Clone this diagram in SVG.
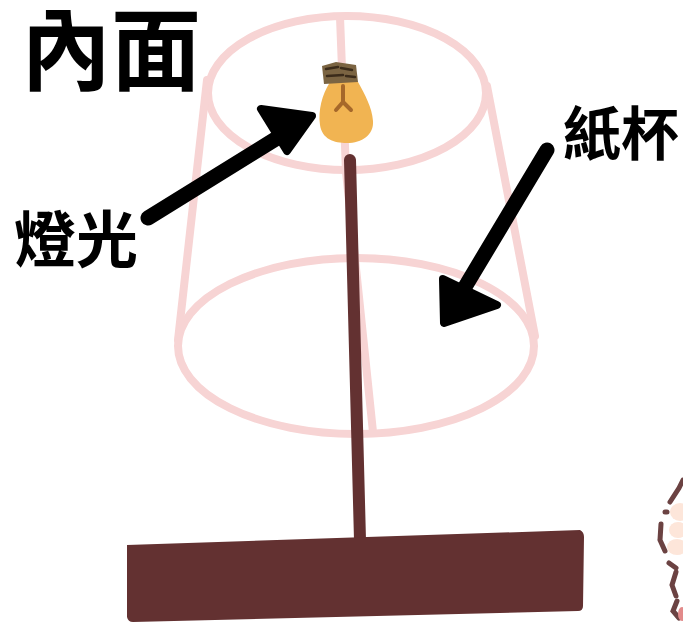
<svg xmlns="http://www.w3.org/2000/svg" width="683" height="624" viewBox="0 0 683 624">
  <style>
    .cup { fill: none; stroke: #f7d4d4; stroke-width: 8; stroke-linecap: round; }
    .label { font-family: "Noto Sans CJK TC", "Noto Sans CJK SC", sans-serif; font-weight: 700; fill: #000; }
    .shaft { stroke: #000; stroke-width: 15; stroke-linecap: round; fill: none; }
    .head { fill: #000; stroke: #000; stroke-width: 8; stroke-linejoin: round; }
    .brown { fill: #633131; }
    .doodle { fill: none; stroke: #6b4242; stroke-width: 5; stroke-linecap: round; }
  </style>
  <rect width="683" height="624" fill="#fff"/>

  <!-- paper cup outline -->
  <g id="cup">
    <ellipse class="cup" cx="347" cy="93" rx="139" ry="77"/>
    <ellipse class="cup" cx="356" cy="346" rx="178" ry="88"/>
    <path class="cup" d="M207,80 L178,340"/>
    <path class="cup" d="M487,86 L535,336"/>
    <path class="cup" d="M340,17 L346,172 L373,432"/>
  </g>

  <!-- lamp stick -->
  <g id="stick">
    <path d="M350,160 L360,540" stroke="#633131" stroke-width="12" stroke-linecap="round"/>
  </g>

  <!-- light bulb -->
  <g id="bulb">
    <path d="M330,82 C322,95 318,110 320,125 C322,139 334,143 347,143 C362,143 374,135 373,121 C372,107 365,95 358,82 Z" fill="#f1b452"/>
    <path d="M343,86 L343,102 M343,102 L336,110 M343,102 L351,110" stroke="#a6682a" stroke-width="4" stroke-linecap="round" fill="none"/>
    <path d="M322,66 L336,62 L356,65 L358,82 L324,84 Z" fill="#7b6442"/>
    <path d="M326,69 L338,67 M341,68 L352,70 M327,76 L343,75 M346,76 L355,77" stroke="#3b2b1a" stroke-width="2.5" stroke-linecap="round"/>
  </g>

  <!-- base -->
  <g id="base">
    <path class="brown" d="M127,545 L580,530 Q584,532 584,537 L583,606 Q583,611 578,611 L133,622 Q128,622 127,617 Z"/>
  </g>

  <!-- pointer arrows -->
  <g id="connectors">
    <path class="shaft" d="M148,218 L282,135"/>
    <polygon class="head" points="261,109 312,116 287,151"/>
    <path class="shaft" d="M547,150 L462,292"/>
    <polygon class="head" points="443,279 497,305 444,323"/>
  </g>

  <!-- labels -->
  <g id="title"><text class="label" x="21" y="83" font-size="90">內面</text></g>
  <g id="light-label"><text class="label" x="14" y="263" font-size="62">燈光</text></g>
  <g id="cup-label"><text class="label" x="563" y="155" font-size="58">紙杯</text></g>

  <!-- corner doodle -->
  <g id="doodle">
    <ellipse cx="680" cy="512" rx="10" ry="9" fill="#fde6da"/>
    <ellipse cx="678" cy="530" rx="9" ry="8" fill="#fde6da"/>
    <ellipse cx="677" cy="547" rx="10" ry="8" fill="#fde6da"/>
    <path class="doodle" d="M670,502 L679,488 L683,480"/>
    <path class="doodle" d="M665,512 L667,512"/>
    <path class="doodle" d="M661,524 L660,540 M660,540 L665,551"/>
    <path class="doodle" d="M669,563 L676,568 M676,572 L672,585 L676,596"/>
    <path class="doodle" d="M677,601 L673,611 L679,618"/>
    <ellipse cx="682" cy="614" rx="4" ry="7" fill="#e28a8a"/>
  </g>
</svg>
